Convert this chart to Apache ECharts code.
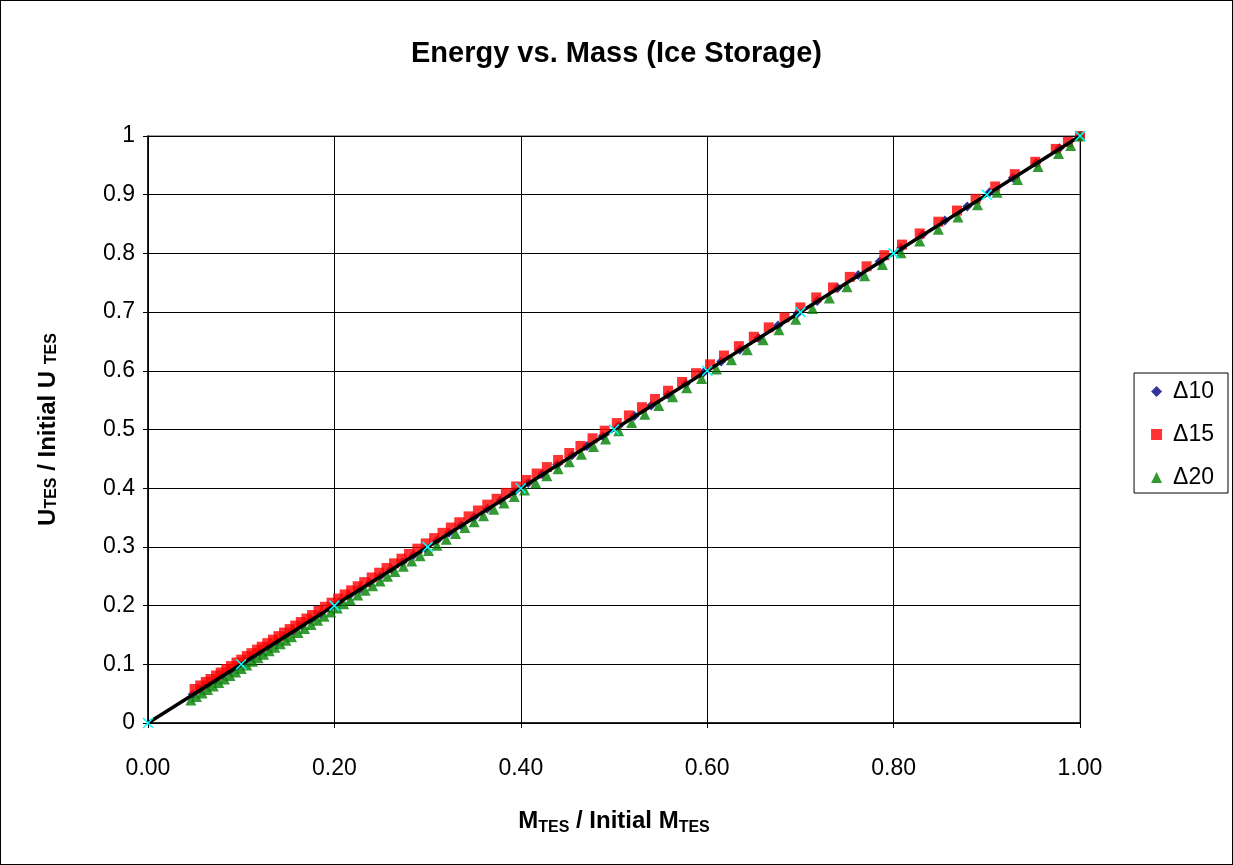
<!DOCTYPE html>
<html>
<head>
<meta charset="utf-8">
<script src="https://cdn.jsdelivr.net/npm/echarts@6/dist/echarts.min.js"></script>
<style>
html,body{margin:0;padding:0;background:#fff;}
#main{width:1231px;height:863px;border:1px solid #000;}
</style>
</head>
<body>
<div id="main"></div>
<script>
// Δ10 series
const d10X = [0.048,0.056,0.064,0.072,0.080,0.088,0.096,0.104,0.112,0.120,0.129,0.138,0.147,0.156,0.165,0.175,0.185,0.195,0.205,0.216,0.227,0.238,0.249,0.261,0.273,0.285,0.297,0.310,0.323,0.336,0.350,0.364,0.378,0.393,0.408,0.423,0.439,0.455,0.471,0.488,0.505,0.522,0.540,0.558,0.577,0.596,0.615,0.635,0.655,0.676,0.697,0.718,0.740,0.762,0.785,0.808,0.831,0.855,0.879,0.903,0.928,0.953,0.978,1.000];
const d10Y = [0.049,0.057,0.065,0.073,0.081,0.089,0.097,0.105,0.113,0.121,0.130,0.139,0.148,0.157,0.166,0.176,0.186,0.196,0.206,0.217,0.228,0.239,0.250,0.262,0.274,0.286,0.298,0.311,0.324,0.337,0.351,0.365,0.379,0.394,0.409,0.424,0.440,0.456,0.472,0.489,0.506,0.523,0.541,0.559,0.578,0.597,0.616,0.636,0.656,0.677,0.698,0.719,0.741,0.763,0.786,0.809,0.832,0.856,0.880,0.904,0.929,0.954,0.979,1.000];
// Δ15 series
const d15X = [0.050,0.056,0.062,0.067,0.073,0.078,0.084,0.089,0.095,0.100,0.106,0.111,0.117,0.122,0.128,0.134,0.140,0.146,0.152,0.158,0.164,0.170,0.176,0.183,0.190,0.197,0.204,0.211,0.218,0.225,0.232,0.240,0.248,0.256,0.264,0.272,0.280,0.289,0.298,0.307,0.316,0.325,0.334,0.344,0.354,0.364,0.374,0.384,0.395,0.406,0.417,0.428,0.440,0.452,0.464,0.477,0.490,0.503,0.516,0.530,0.544,0.558,0.573,0.588,0.603,0.618,0.634,0.650,0.666,0.683,0.700,0.717,0.735,0.753,0.771,0.790,0.809,0.828,0.848,0.868,0.888,0.909,0.930,0.952,0.974,0.987,1.000];
const d15Y = [0.058,0.064,0.070,0.075,0.081,0.086,0.092,0.097,0.103,0.108,0.114,0.119,0.125,0.130,0.136,0.142,0.148,0.154,0.160,0.166,0.172,0.178,0.184,0.191,0.198,0.205,0.212,0.219,0.226,0.233,0.240,0.248,0.256,0.264,0.272,0.280,0.288,0.297,0.306,0.315,0.324,0.333,0.342,0.352,0.362,0.372,0.382,0.392,0.403,0.414,0.425,0.436,0.448,0.460,0.472,0.485,0.498,0.511,0.524,0.538,0.552,0.566,0.581,0.596,0.611,0.626,0.642,0.658,0.674,0.691,0.708,0.725,0.742,0.760,0.778,0.797,0.815,0.834,0.854,0.873,0.893,0.914,0.935,0.956,0.978,0.990,1.000];
// Δ20 series
const d20X = [0.046,0.052,0.058,0.064,0.070,0.076,0.082,0.088,0.094,0.100,0.106,0.112,0.118,0.124,0.130,0.136,0.142,0.148,0.154,0.161,0.168,0.175,0.182,0.189,0.196,0.203,0.210,0.217,0.225,0.233,0.241,0.249,0.257,0.265,0.274,0.283,0.292,0.301,0.310,0.320,0.330,0.340,0.350,0.360,0.371,0.382,0.393,0.404,0.416,0.428,0.440,0.452,0.465,0.478,0.491,0.505,0.519,0.533,0.548,0.563,0.578,0.594,0.610,0.626,0.643,0.660,0.677,0.695,0.713,0.731,0.750,0.769,0.788,0.808,0.828,0.848,0.869,0.890,0.911,0.933,0.955,0.977,0.990,1.000];
const d20Y = [0.039,0.045,0.051,0.057,0.063,0.069,0.075,0.081,0.087,0.093,0.099,0.105,0.111,0.117,0.123,0.129,0.135,0.141,0.147,0.154,0.161,0.168,0.175,0.182,0.189,0.196,0.203,0.210,0.218,0.226,0.234,0.242,0.250,0.258,0.267,0.276,0.285,0.294,0.303,0.313,0.323,0.333,0.343,0.353,0.364,0.375,0.386,0.397,0.409,0.421,0.433,0.445,0.458,0.471,0.484,0.498,0.512,0.526,0.541,0.556,0.571,0.587,0.603,0.619,0.636,0.653,0.670,0.688,0.706,0.724,0.743,0.762,0.781,0.801,0.821,0.841,0.862,0.883,0.904,0.926,0.948,0.970,0.984,1.000];
// reference line (1:1) with cross markers
const refX = [0,0.1,0.2,0.3,0.4,0.5,0.6,0.7,0.8,0.9,1.0];
const refY = [0,0.1,0.2,0.3,0.4,0.5,0.6,0.7,0.8,0.9,1.0];

const seriesNames = ['\u039410','\u039415','\u039420'];

function zip(a, b){ return a.map((v,i)=>[v,b[i]]); }

const chart = echarts.init(document.getElementById('main'), null, {renderer:'canvas'});
const font = 'Liberation Sans, Arial, sans-serif';
const crossPath = 'path://M0,0L10,10M10,0L0,10';

chart.setOption({
  animation:false,
  backgroundColor:'#fff',
  title:{
    text:'Energy vs. Mass (Ice Storage)',
    left:'center', top:33,
    textStyle:{fontFamily:font,fontSize:29,fontWeight:'bold',color:'#000'}
  },
  grid:{left:147,right:152,top:135,bottom:141,show:true,borderColor:'#808080',borderWidth:1.5,backgroundColor:'#fff'},
  legend:{
    orient:'vertical', right:4, top:372,
    data:[
      {name:seriesNames[0],icon:'diamond'},
      {name:seriesNames[1],icon:'rect'},
      {name:seriesNames[2],icon:'triangle'}
    ],
    itemWidth:11,itemHeight:11,itemGap:20,
    padding:[7,14,4,17],
    borderColor:'#000',borderWidth:1,
    textStyle:{fontFamily:font,fontSize:23,color:'#000',padding:[0,0,0,6]}
  },
  xAxis:{
    type:'value',min:0,max:1,interval:0.2,
    name:'{b|M}{s|TES}{b| / Initial M}{s|TES}',
    nameLocation:'middle',nameGap:86,
    nameTextStyle:{rich:{
      b:{fontFamily:font,fontSize:24,fontWeight:'bold',color:'#000',verticalAlign:'bottom'},
      s:{fontFamily:font,fontSize:16,fontWeight:'bold',color:'#000',verticalAlign:'bottom',padding:[0,0,-3,0]}
    }},
    axisLine:{lineStyle:{color:'#000',width:1.5}},
    axisTick:{show:true,length:5,lineStyle:{color:'#000'}},
    axisLabel:{fontFamily:font,fontSize:23,color:'#000',margin:34,formatter:v=>v.toFixed(2)},
    splitLine:{show:true,lineStyle:{color:'#000',width:1}}
  },
  yAxis:{
    type:'value',min:0,max:1,interval:0.1,
    name:'{b|U}{s|TES}{b| / Initial U }{s|TES}',
    nameLocation:'middle',nameGap:88,
    nameTextStyle:{rich:{
      b:{fontFamily:font,fontSize:24,fontWeight:'bold',color:'#000',verticalAlign:'bottom'},
      s:{fontFamily:font,fontSize:16,fontWeight:'bold',color:'#000',verticalAlign:'bottom'}
    }},
    axisLine:{show:true,lineStyle:{color:'#000',width:1.5}},
    axisTick:{show:true,length:5,lineStyle:{color:'#000'}},
    axisLabel:{fontFamily:font,fontSize:23,color:'#000',margin:13,formatter:v=>String(Math.round(v*10)/10)},
    splitLine:{show:true,lineStyle:{color:'#000',width:1}}
  },
  series:[
    {name:seriesNames[0],type:'scatter',symbol:'diamond',symbolSize:10,
     itemStyle:{color:'#000080'},data:zip(d10X,d10Y),z:3},
    {name:seriesNames[1],type:'scatter',symbol:'rect',symbolSize:10,
     itemStyle:{color:'#ff0000'},data:zip(d15X,d15Y),z:3},
    {name:seriesNames[2],type:'scatter',symbol:'triangle',symbolSize:11,
     itemStyle:{color:'#008000'},data:zip(d20X,d20Y),z:3},
    {name:'ref',type:'line',data:zip(refX,refY),z:5,
     symbol:crossPath,symbolSize:10,showAllSymbol:true,
     itemStyle:{color:'#00ffff',borderColor:'#00ffff',borderWidth:1.5},
     lineStyle:{color:'#000',width:3.5}}
  ]
});
</script>
</body>
</html>
